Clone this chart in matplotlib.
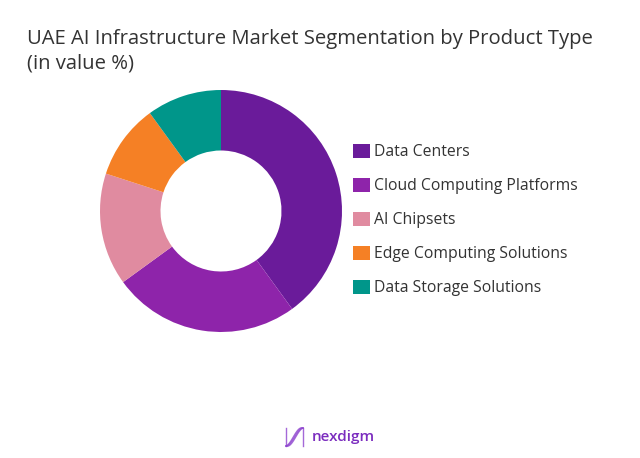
import matplotlib
matplotlib.use('Agg')
import matplotlib.pyplot as plt
import numpy as np

segments = ['Data Centers', 'Cloud Computing Platforms', 'AI Chipsets',
            'Edge Computing Solutions', 'Data Storage Solutions']
shares = [40, 25, 15, 10, 10]
colors = ['#6A1B9A', '#8E24AA', '#E08BA0', '#F58025', '#00968A']

title = 'UAE AI Infrastructure Market Segmentation by Product Type\n(in value %)'

plt.rcParams['font.family'] = ['Open Sans', 'DejaVu Sans']

fig = plt.figure(figsize=(6.4, 4.58), dpi=100)
fig.patch.set_facecolor('white')

# donut centred near (221, 211) px, radius ~121 px
cx, cy, r = 221, 211, 121
ax = fig.add_axes([(cx - r) / 640, (458 - cy - r) / 458, 2 * r / 640, 2 * r / 458])
wedges, _ = ax.pie(shares, colors=colors, startangle=90, counterclock=False,
                   radius=1, wedgeprops=dict(width=0.5, edgecolor='none'))
ax.set_xlim(-1, 1)
ax.set_ylim(-1, 1)
ax.set_aspect('equal')
ax.axis('off')

fig.text(27 / 640, 1 - 51 / 458, title, fontsize=14.6, color='#333333',
         ha='left', va='center', linespacing=1.3)

leg = fig.legend(wedges, segments, loc='center left',
                 bbox_to_anchor=(339 / 640, 1 - 220 / 458), frameon=False,
                 fontsize=11.3, handlelength=1.05, handleheight=1.0,
                 handletextpad=0.3, labelspacing=1.13, labelcolor='#333333')

# logo
fig.text(312 / 640, 1 - 437 / 458, 'nexdigm', fontsize=11, color='#7B2CBF',
         fontweight='semibold', ha='left', va='center')
t = np.linspace(0, 1, 60)
lx = 286 + 17 * t
for off in (-2.0, 0, 2.0):
    ly = 437 + 9 * np.cos(np.pi * t) + off * np.sin(np.pi * t)
    fig.add_artist(plt.Line2D(lx / 640, 1 - ly / 458, color='#8E44CF', lw=1.0,
                              alpha=0.8, transform=fig.transFigure))
fig.add_artist(plt.Line2D([286 / 640, 286 / 640], [1 - 446 / 458, 1 - 428 / 458],
                          color='#8E44CF', lw=1.0, alpha=0.8))
fig.add_artist(plt.Line2D([303 / 640, 303 / 640], [1 - 446 / 458, 1 - 428 / 458],
                          color='#8E44CF', lw=1.0, alpha=0.8))

fig.savefig('out.png', dpi=100, facecolor='white')
